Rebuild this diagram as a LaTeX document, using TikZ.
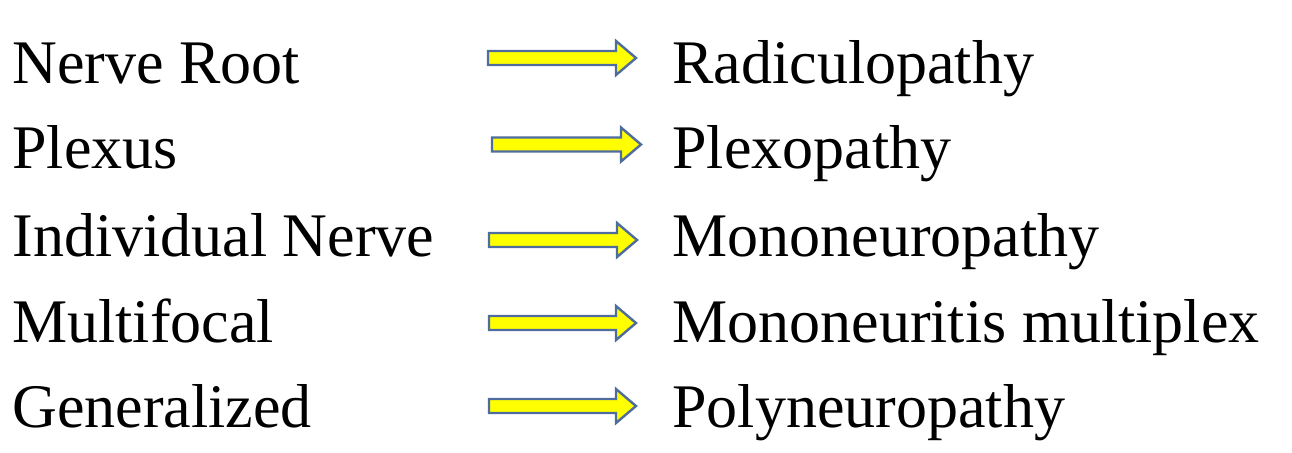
\documentclass[tikz,border=0pt]{standalone}
\usepackage{fontspec}
\setmainfont{Liberation Serif}
\usetikzlibrary{positioning}
\usetikzlibrary{calc}

\definecolor{jaune}{RGB}{255,255,0}
\definecolor{bordure}{RGB}{78,108,158}

\tikzset{
  terme/.style={anchor=base west, inner sep=0pt, font=\fontsize{31}{37}\selectfont},
  fleche/.style={draw=bordure, fill=jaune, line width=1.2pt, line join=miter,
    to path={($(\tikztostart)+(0,-7)$) -- ($(\tikztotarget)+(-20,-7)$)
      -- ($(\tikztotarget)+(-20,-17)$) -- (\tikztotarget)
      -- ($(\tikztotarget)+(-20,17)$) -- ($(\tikztotarget)+(-20,7)$)
      -- ($(\tikztostart)+(0,7)$) -- cycle}}
}

\begin{document}
\begin{tikzpicture}[x=0.5pt, y=-0.5pt]
\useasboundingbox (0,0) rectangle (1292,452);

% Localisation de l'atteinte
\node[terme] (racine) at (12,83) {Nerve Root};
\node[terme] (plexus) at (12,168) {Plexus};
\node[terme] (nerf) at (12,256) {Individual Nerve};
\node[terme] (multi) at (12,342) {Multifocal};
\node[terme] (general) at (12,427) {Generalized};

% Nom de la neuropathie
\node[terme] (radiculo) at (672,83) {Radiculopathy};
\node[terme] (plexo) at (672,168) {Plexopathy};
\node[terme] (mono) at (672,256) {Mononeuropathy};
\node[terme] (mononeurite) at (672,342) {Mononeuritis multiplex};
\node[terme] (poly) at (672,427) {Polyneuropathy};

% Extremites des fleches
\coordinate (s1) at (488,58);   \coordinate (e1) at (636,58);
\coordinate (s2) at (492,144.5); \coordinate (e2) at (641,144.5);
\coordinate (s3) at (489,240);  \coordinate (e3) at (637,240);
\coordinate (s4) at (489,323);  \coordinate (e4) at (636,323);
\coordinate (s5) at (489,406);  \coordinate (e5) at (636,406);

% Fleches
\draw[fleche] (s1) to (e1);
\draw[fleche] (s2) to (e2);
\draw[fleche] (s3) to (e3);
\draw[fleche] (s4) to (e4);
\draw[fleche] (s5) to (e5);

\end{tikzpicture}
\end{document}
